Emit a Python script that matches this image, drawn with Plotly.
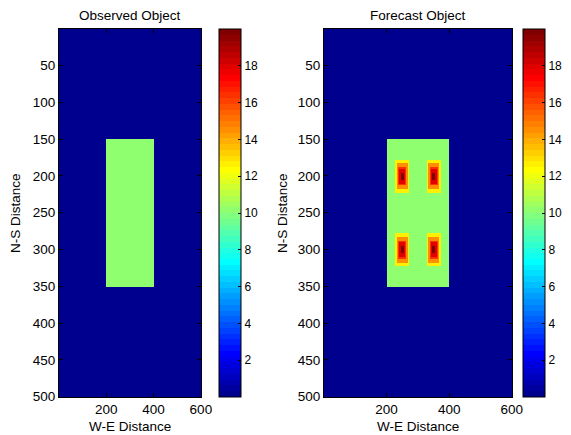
import numpy as np
import plotly.graph_objects as go

# ---------------- data ----------------
X_LIMITS = [0.5, 600.5]          # W-E extent of the field
Y_LIMITS = [0.5, 500.5]          # N-S extent of the field
CELL = 2.5                       # grid spacing

BACKGROUND_VALUE = 0.0
OBJECT_X = [200.5, 400.5]        # rectangle object W-E bounds
OBJECT_Y = [150.5, 350.5]        # rectangle object N-S bounds
OBJECT_VALUE = 10.0

PEAK_X = [250.5, 350.5]          # forecast intensity peaks (W-E)
PEAK_Y = [200.5, 300.5]          # forecast intensity peaks (N-S)
PEAK_RING_VALUES = [19.7, 18.0, 16.3, 14.6, 12.8]   # centre -> outer ring
PEAK_RING_WIDTH = 4.4

COLOR_MIN, COLOR_MAX = 0.0, 20.0
COLORBAR_TICKS = [2, 4, 6, 8, 10, 12, 14, 16, 18]
X_TICKS = [200, 400, 600]
Y_TICKS = [50, 100, 150, 200, 250, 300, 350, 400, 450, 500]

TITLES = ["Observed Object", "Forecast Object"]
X_TITLE = "W-E Distance"
Y_TITLE = "N-S Distance"

# ---------------- fields ----------------
xc = np.arange(X_LIMITS[0] + CELL / 2, X_LIMITS[1], CELL)
yc = np.arange(Y_LIMITS[0] + CELL / 2, Y_LIMITS[1], CELL)
XX, YY = np.meshgrid(xc, yc)

observed = np.full(XX.shape, BACKGROUND_VALUE)
inside = (XX > OBJECT_X[0]) & (XX < OBJECT_X[1]) & (YY > OBJECT_Y[0]) & (YY < OBJECT_Y[1])
observed[inside] = OBJECT_VALUE

forecast = observed.copy()
for px in PEAK_X:
    for py in PEAK_Y:
        d = np.maximum(np.abs(XX - px), np.abs(YY - py))
        ring = np.floor(d / PEAK_RING_WIDTH).astype(int)
        for i, v in enumerate(PEAK_RING_VALUES):
            forecast[ring == i] = v


# ---------------- MATLAB jet(64) stepped colorscale ----------------
def jet(m=64):
    n = int(np.ceil(m / 4))
    u = np.concatenate([np.arange(1, n + 1) / n, np.ones(n - 1), np.arange(n, 0, -1) / n])
    g = int(np.ceil(n / 2)) - (1 if m % 4 == 1 else 0) + np.arange(1, len(u) + 1)
    r = g + n
    b = g - n
    g = g[g <= m]
    r = r[r <= m]
    b = b[b >= 1]
    J = np.zeros((m, 3))
    J[r - 1, 0] = u[: len(r)]
    J[g - 1, 1] = u[: len(g)]
    J[b - 1, 2] = u[len(u) - len(b):]
    return J


J = jet(64)
colorscale = []
for k, c in enumerate(J):
    col = "rgb(%d,%d,%d)" % tuple(int(round(v * 255)) for v in c)
    colorscale.append([k / 64, col])
    colorscale.append([(k + 1) / 64, col])

# ---------------- layout geometry ----------------
PAGE_MARGIN = 8                  # default <body> margin of the page
W, H = 571 - PAGE_MARGIN, 435 - PAGE_MARGIN


def px_x(p):
    return (p - PAGE_MARGIN) / W


def px_y(p):
    return 1 - (p - PAGE_MARGIN) / H


FONT = dict(family="Liberation Sans, Arial, sans-serif", size=13.5, color="black")
CB_FONT = dict(family="Liberation Sans, Arial, sans-serif", size=12, color="black")
plot_px = [(59, 201), (324, 512)]
cbar_px = [219, 523]
CB_THICK = 22
top_px, bot_px = 29, 397

fig = go.Figure()
fields = [observed, forecast]
for i in range(2):
    xa = "x" if i == 0 else "x2"
    ya = "y" if i == 0 else "y2"
    fig.add_trace(go.Heatmap(
        z=fields[i], x=xc, y=yc, xaxis=xa, yaxis=ya,
        colorscale=colorscale, zmin=COLOR_MIN, zmax=COLOR_MAX, zsmooth=False,
        hoverinfo="skip",
        colorbar=dict(
            x=px_x(cbar_px[i]), xanchor="left", xpad=0,
            y=px_y(top_px), yanchor="top", ypad=0,
            len=(bot_px - top_px) / H, lenmode="fraction",
            thickness=CB_THICK, thicknessmode="pixels",
            outlinecolor="black", outlinewidth=1,
            tickvals=COLORBAR_TICKS, ticks="inside", ticklen=3, tickcolor="black",
            tickfont=CB_FONT,
        ),
    ))

axis_common = dict(showline=True, linecolor="black", linewidth=1, mirror="ticks",
                   ticks="inside", ticklen=4, tickcolor="black", showgrid=False,
                   zeroline=False, tickfont=FONT)
fig.update_layout(
    width=W, height=H,
    margin=dict(l=0, r=0, t=0, b=0, autoexpand=False),
    paper_bgcolor="white", plot_bgcolor="white",
    showlegend=False,
    xaxis=dict(domain=[px_x(plot_px[0][0]), px_x(plot_px[0][1])], range=X_LIMITS,
               tickvals=X_TICKS, anchor="y", **axis_common),
    yaxis=dict(domain=[px_y(bot_px), px_y(top_px)], range=Y_LIMITS[::-1],
               tickvals=Y_TICKS, anchor="x", **axis_common),
    xaxis2=dict(domain=[px_x(plot_px[1][0]), px_x(plot_px[1][1])], range=X_LIMITS,
                tickvals=X_TICKS, anchor="y2", **axis_common),
    yaxis2=dict(domain=[px_y(bot_px), px_y(top_px)], range=Y_LIMITS[::-1],
                tickvals=Y_TICKS, anchor="x2", **axis_common),
)

ann = []
for i in range(2):
    cx = px_x((plot_px[i][0] + plot_px[i][1]) / 2)
    ann.append(dict(text=TITLES[i], x=cx, y=px_y(15), xref="paper", yref="paper",
                    showarrow=False, font=FONT, xanchor="center", yanchor="middle"))
    ann.append(dict(text=X_TITLE, x=cx, y=px_y(426), xref="paper", yref="paper",
                    showarrow=False, font=FONT, xanchor="center", yanchor="middle"))
for xp in [15, 282]:
    ann.append(dict(text=Y_TITLE, x=px_x(xp), y=px_y(213), xref="paper", yref="paper",
                    showarrow=False, font=FONT, textangle=-90,
                    xanchor="center", yanchor="middle"))
fig.update_layout(annotations=ann)

fig.write_html("out.html")
